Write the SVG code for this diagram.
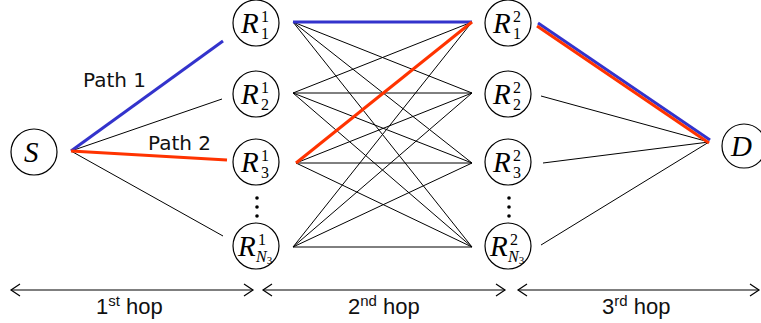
<svg xmlns="http://www.w3.org/2000/svg" width="761" height="323" viewBox="0 0 761 323">
<style>
.node{fill:#fff;stroke:#000;stroke-width:1.2}
.m{font-family:"Liberation Serif","DejaVu Serif",serif;font-size:29px;font-style:italic}
.sc{font-family:"Liberation Serif","DejaVu Serif",serif;font-size:16px;font-style:normal}
.si{font-family:"Liberation Serif","DejaVu Serif",serif;font-size:16px;font-style:italic}
.ss{font-size:11px;font-style:normal}
.e{stroke:#000;stroke-width:1;fill:none}
.blue{stroke:#3333cc;stroke-width:3;fill:none}
.red{stroke:#ff3300;stroke-width:3;fill:none}
.lbl{font-family:"DejaVu Sans",sans-serif;font-size:20px;fill:#111}
.hop{font-family:"Liberation Sans",Arial,sans-serif;font-size:22px;fill:#111}
.hs{font-size:15px}
.arr{stroke:#000;stroke-width:1.2;fill:none;marker-start:url(#ah);marker-end:url(#ah)}
</style>
<defs>
<marker id="ah" viewBox="-10 -7 12 14" markerWidth="12" markerHeight="14" refX="0" refY="0" orient="auto-start-reverse" markerUnits="userSpaceOnUse">
<path d="M-9,-6 L0,0 L-9,6" fill="none" stroke="#000" stroke-width="1.2"/>
</marker>
</defs>
<g id="connectors">
<line class="e" x1="71" y1="151" x2="222" y2="99"/>
<line class="e" x1="71" y1="151" x2="223" y2="236"/>
<line class="e" x1="293" y1="22" x2="472" y2="93"/>
<line class="e" x1="293" y1="22" x2="472" y2="163"/>
<line class="e" x1="293" y1="22" x2="472" y2="247"/>
<line class="e" x1="293" y1="93" x2="472" y2="22"/>
<line class="e" x1="293" y1="93" x2="472" y2="93"/>
<line class="e" x1="293" y1="93" x2="472" y2="163"/>
<line class="e" x1="293" y1="93" x2="472" y2="247"/>
<line class="e" x1="296" y1="163" x2="472" y2="93"/>
<line class="e" x1="296" y1="163" x2="472" y2="163"/>
<line class="e" x1="296" y1="163" x2="472" y2="247"/>
<line class="e" x1="293" y1="247" x2="472" y2="22"/>
<line class="e" x1="293" y1="247" x2="472" y2="93"/>
<line class="e" x1="293" y1="247" x2="472" y2="163"/>
<line class="e" x1="293" y1="247" x2="472" y2="247"/>
<line class="e" x1="541" y1="96" x2="709" y2="142"/>
<line class="e" x1="543" y1="163" x2="709" y2="142"/>
<line class="e" x1="541" y1="245" x2="709" y2="142"/>
<line class="blue" x1="71" y1="151" x2="223" y2="41"/>
<line class="red" x1="71" y1="151" x2="227" y2="160"/>
<line class="blue" x1="293" y1="22" x2="472" y2="22"/>
<line class="red" x1="296" y1="163" x2="472" y2="22"/>
<line class="blue" x1="538" y1="23" x2="710" y2="140"/>
<line class="red" x1="537" y1="26" x2="709" y2="143"/>
</g>
<g id="labels">
<text class="lbl" x="83" y="87">Path 1</text>
<text class="lbl" x="148" y="150">Path 2</text>
</g>
<g id="S"><circle class="node" cx="34" cy="152" r="23"/><text class="m" x="24" y="162">S</text></g>
<g id="R11"><circle class="node" cx="256" cy="23" r="23"/><text class="m" x="241" y="33">R</text><text class="sc" x="261" y="22">1</text><text class="sc" x="261" y="39">1</text></g>
<g id="R21"><circle class="node" cx="256" cy="94" r="23"/><text class="m" x="241" y="104">R</text><text class="sc" x="261" y="93">1</text><text class="sc" x="261" y="110">2</text></g>
<g id="R31"><circle class="node" cx="256" cy="162" r="23"/><text class="m" x="241" y="172">R</text><text class="sc" x="261" y="161">1</text><text class="sc" x="261" y="178">3</text></g>
<g id="RN1"><circle class="node" cx="256" cy="246" r="23"/><text class="m" x="238" y="256">R</text><text class="sc" x="258" y="245">1</text><text class="si" x="256" y="262">N<tspan class="ss" dy="2">3</tspan></text></g>
<g id="dots1"><circle cx="257" cy="198" r="1.8"/><circle cx="257" cy="207" r="1.8"/><circle cx="257" cy="216" r="1.8"/></g>
<g id="R12"><circle class="node" cx="508" cy="23" r="23"/><text class="m" x="493" y="33">R</text><text class="sc" x="513" y="22">2</text><text class="sc" x="513" y="39">1</text></g>
<g id="R22"><circle class="node" cx="508" cy="94" r="23"/><text class="m" x="493" y="104">R</text><text class="sc" x="513" y="93">2</text><text class="sc" x="513" y="110">2</text></g>
<g id="R32"><circle class="node" cx="508" cy="162" r="23"/><text class="m" x="493" y="172">R</text><text class="sc" x="513" y="161">2</text><text class="sc" x="513" y="178">3</text></g>
<g id="RN2"><circle class="node" cx="508" cy="246" r="23"/><text class="m" x="490" y="256">R</text><text class="sc" x="510" y="245">2</text><text class="si" x="508" y="262">N<tspan class="ss" dy="2">3</tspan></text></g>
<g id="dots2"><circle cx="509" cy="198" r="1.8"/><circle cx="509" cy="207" r="1.8"/><circle cx="509" cy="216" r="1.8"/></g>
<g id="D"><circle class="node" cx="744" cy="146" r="22"/><text class="m" x="731" y="156">D</text></g>
<g id="hops">
<line class="arr" x1="11" y1="290" x2="253" y2="290"/>
<line class="arr" x1="263" y1="290" x2="505" y2="290"/>
<line class="arr" x1="518" y1="290" x2="759" y2="290"/>
<text class="hop" x="96" y="314">1<tspan class="hs" dy="-8">st</tspan><tspan dy="8"> hop</tspan></text>
<text class="hop" x="348" y="314">2<tspan class="hs" dy="-8">nd</tspan><tspan dy="8"> hop</tspan></text>
<text class="hop" x="602" y="314">3<tspan class="hs" dy="-8">rd</tspan><tspan dy="8"> hop</tspan></text>
</g>
</svg>
